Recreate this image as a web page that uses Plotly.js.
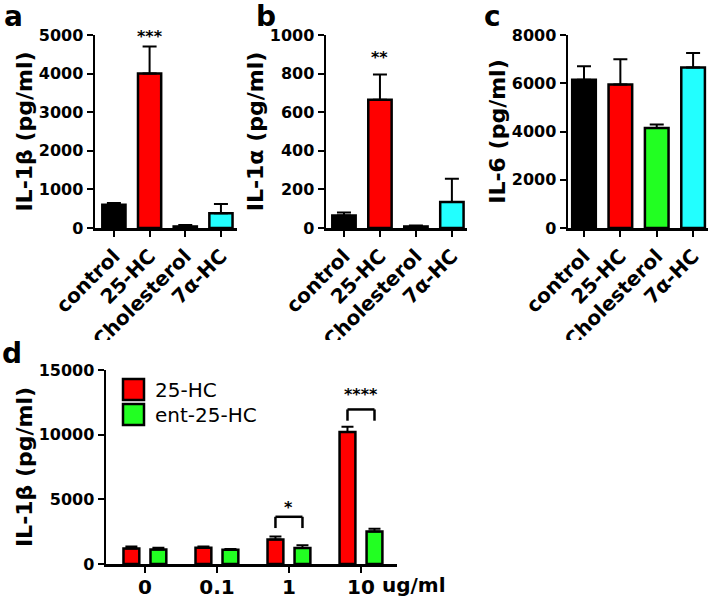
<!DOCTYPE html>
<html>
<head>
<meta charset="utf-8">
<script src="https://cdn.plot.ly/plotly-3.0.1.min.js"></script>
<style>html,body{margin:0;padding:0;background:#fff;}#chart{width:709px;height:598px;}</style>
</head>
<body>
<div id="chart"></div>
<script>
// ---------- data ----------
const categories = ['control', '25-HC', 'Cholesterol', '7α-HC'];
const il1bMean = [600, 4000, 40, 380];
const il1bErr  = [50, 700, 40, 240];
const il1aMean = [65, 665, 8, 135];
const il1aErr  = [15, 130, 5, 120];
const il6Mean  = [6150, 5950, 4150, 6650];
const il6Err   = [550, 1050, 140, 600];

const doses = ['0', '0.1', '1', '10'];
const doseUnit = 'ug/ml';
const seriesNames = ['25-HC', 'ent-25-HC'];
const hc25Mean = [1200, 1250, 1900, 10200];
const hc25Err  = [150, 100, 230, 420];
const entMean  = [1130, 1100, 1230, 2520];
const entErr   = [120, 60, 220, 200];

const panelLetters = ['a', 'b', 'c', 'd'];
const yTitles = ['IL-1β (pg/ml)', 'IL-1α (pg/ml)', 'IL-6 (pg/ml)', 'IL-1β (pg/ml)'];
const yMax = [5000, 1000, 8000, 15000];
const yDtick = [1000, 200, 2000, 5000];

// significance marks
const sigABCPanel = [0, 1];
const sigABCCat = ['25-HC', '25-HC'];
const sigABCText = ['***', '**'];
const sigABCY = [4950, 885];
const sigDDose = ['1', '10'];
const sigDText = ['*', '****'];
const sigDTop = [3650, 11950];
const sigDLeg = [2780, 11080];
const sigDTextY = [4400, 13100];

// ---------- style ----------
const catColors = ['#000000', '#ff0000', '#22ff22', '#22ffff'];
const seriesColors = ['#ff0000', '#22ff22'];
const FONT = 'DejaVu Sans, Verdana, sans-serif';
const W = 709, H = 598;
const px = v => v / W;
const py = v => 1 - v / H;

const traces = [];
const meansABC = [il1bMean, il1aMean, il6Mean];
const errsABC = [il1bErr, il1aErr, il6Err];
meansABC.forEach((m, i) => {
  const n = i + 1;
  traces.push({
    type: 'bar', x: categories, y: m,
    xaxis: 'x' + (n === 1 ? '' : n), yaxis: 'y' + (n === 1 ? '' : n),
    width: 0.65,
    marker: {color: catColors, line: {color: '#000', width: 2.5}},
    error_y: {type: 'data', array: errsABC[i], arrayminus: m.map(() => 0), symmetric: false,
              color: '#000', thickness: 2, width: 7},
    showlegend: false, hoverinfo: 'x+y'
  });
});
[hc25Mean, entMean].forEach((m, k) => {
  const e = k === 0 ? hc25Err : entErr;
  traces.push({
    type: 'bar', x: doses, y: m, name: seriesNames[k],
    xaxis: 'x4', yaxis: 'y4',
    width: 0.22, offset: k === 0 ? -0.2975 : 0.0775,
    marker: {color: seriesColors[k], line: {color: '#000', width: 2.5}},
    error_y: {type: 'data', array: e, arrayminus: m.map(() => 0), symmetric: false,
              color: '#000', thickness: 2, width: 6},
    showlegend: false
  });
});

function xAxis(domain, range, anchor, tickangle, size, lblOff) {
  return {
    domain: domain, anchor: anchor, type: 'category', range: range,
    showline: true, linecolor: '#000', linewidth: 2.5,
    ticks: 'outside', ticklen: 6, tickwidth: 2, tickcolor: '#000',
    ticklabelstandoff: lblOff,
    showgrid: false, zeroline: false, tickangle: tickangle, fixedrange: true,
    tickfont: {family: FONT, size: size, color: '#000', weight: 'bold'}
  };
}
function yAxis(domain, idx, anchor, standoff) {
  return {
    domain: domain, anchor: anchor, range: [0, yMax[idx]], dtick: yDtick[idx], tick0: 0,
    exponentformat: 'none', separatethousands: false, tickformat: 'd',
    showline: true, linecolor: '#000', linewidth: 2.5,
    ticks: 'outside', ticklen: 6, tickwidth: 2, tickcolor: '#000',
    showgrid: false, zeroline: false, fixedrange: true,
    tickfont: {family: FONT, size: 16, color: '#000', weight: 'bold'},
    title: {text: yTitles[idx], standoff: standoff,
            font: {family: FONT, size: 22, color: '#000', weight: 'bold'}}
  };
}

const yTop = [py(228), py(35)];
const layout = {
  width: W, height: H, margin: {l: 0, r: 0, t: 0, b: 0},
  paper_bgcolor: '#fff', plot_bgcolor: '#fff',
  showlegend: false, barmode: 'group',
  xaxis:  xAxis([px(95), px(237)], [-0.53, 3.45], 'y', -45, 20, 0),
  yaxis:  yAxis(yTop, 0, 'x', 0),
  xaxis2: xAxis([px(326), px(467)], [-0.5, 3.42], 'y2', -45, 20, 0),
  yaxis2: yAxis(yTop, 1, 'x2', 0),
  xaxis3: xAxis([px(568), px(708)], [-0.44, 3.41], 'y3', -45, 20, 0),
  yaxis3: yAxis(yTop, 2, 'x3', 0),
  xaxis4: xAxis([px(106), px(397)], [-0.54, 3.5], 'y4', 0, 20, -3),
  yaxis4: yAxis([py(564), py(370)], 3, 'x4', 0),
  shapes: [], annotations: []
};

// clip rotated labels like the reference
layout.shapes.push({type: 'rect', xref: 'paper', yref: 'paper', layer: 'above',
  x0: 0, x1: 1, y0: py(360), y1: py(340), fillcolor: '#fff', line: {width: 0}});

// panel letters
const letterPos = [[2, 17], [254, 17], [482, 17], [0, 353]];
panelLetters.forEach((t, i) => {
  layout.annotations.push({text: t, xref: 'paper', yref: 'paper',
    x: px(letterPos[i][0]), y: py(letterPos[i][1]), xanchor: 'left', yanchor: 'middle',
    showarrow: false, font: {family: FONT, size: 28, color: '#000', weight: 'bold'}});
});

// significance a-c
sigABCPanel.forEach((p, i) => {
  const n = p + 1;
  layout.annotations.push({text: sigABCText[i], x: sigABCCat[i], y: sigABCY[i],
    xref: 'x' + (n === 1 ? '' : n), yref: 'y' + (n === 1 ? '' : n),
    showarrow: false, yanchor: 'middle',
    font: {family: FONT, size: 16, color: '#000', weight: 'bold'}});
});
// significance d brackets
sigDDose.forEach((d, i) => {
  const c = doses.indexOf(d);
  const xl = c - 0.1875, xr = c + 0.1875;
  const ln = {color: '#000', width: 2.5};
  layout.shapes.push({type: 'line', xref: 'x4', yref: 'y4', x0: xl, x1: xr, y0: sigDTop[i], y1: sigDTop[i], line: ln});
  layout.shapes.push({type: 'line', xref: 'x4', yref: 'y4', x0: xl, x1: xl, y0: sigDTop[i], y1: sigDLeg[i], line: ln});
  layout.shapes.push({type: 'line', xref: 'x4', yref: 'y4', x0: xr, x1: xr, y0: sigDTop[i], y1: sigDLeg[i], line: ln});
  layout.annotations.push({text: sigDText[i], x: c, y: sigDTextY[i], xref: 'x4', yref: 'y4',
    showarrow: false, yanchor: 'middle',
    font: {family: FONT, size: 16, color: '#000', weight: 'bold'}});
});

// unit label next to last dose tick
layout.annotations.push({text: doseUnit, xref: 'paper', yref: 'paper',
  x: px(380), y: py(585), xanchor: 'left', yanchor: 'middle', showarrow: false,
  font: {family: FONT, size: 20, color: '#000', weight: 'bold'}});

// manual legend for panel d
seriesNames.forEach((s, k) => {
  const top = 379 + k * 25;
  layout.shapes.push({type: 'rect', xref: 'paper', yref: 'paper',
    x0: px(123), x1: px(144), y0: py(top + 21), y1: py(top),
    fillcolor: seriesColors[k], line: {color: '#000', width: 2.5}});
  layout.annotations.push({text: s, xref: 'paper', yref: 'paper',
    x: px(153), y: py(top + 10.5), xanchor: 'left', yanchor: 'middle', showarrow: false,
    font: {family: FONT, size: 20, color: '#000'}});
});

Plotly.newPlot('chart', traces, layout, {displayModeBar: false, staticPlot: true});
</script>
</body>
</html>
